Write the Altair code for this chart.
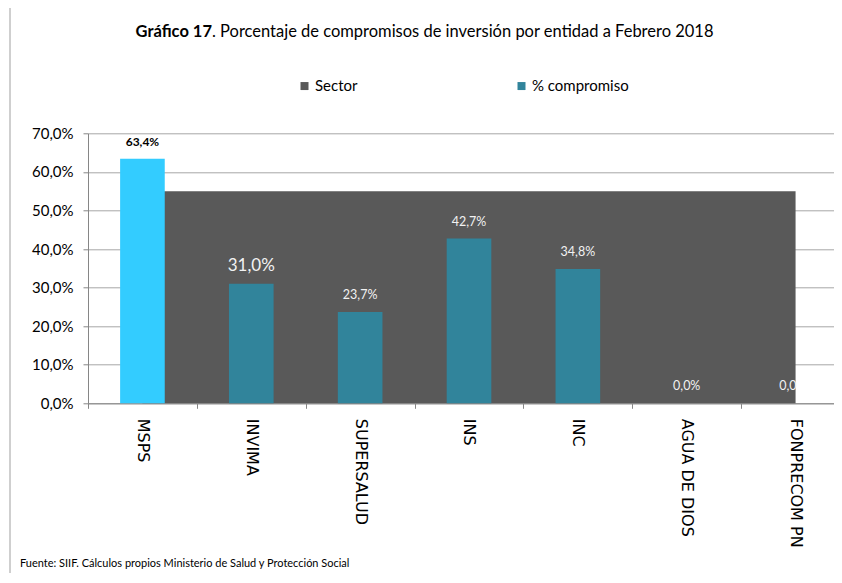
import altair as alt
import pandas as pd

# ---- data ----
entidades = ["MSPS", "INVIMA", "SUPERSALUD", "INS", "INC", "AGUA DE DIOS", "FONPRECOM PN"]
compromiso = [63.4, 31.0, 23.7, 42.7, 34.8, 0.0, 0.0]
sector = [55.0, 55.0, 55.0, 55.0, 55.0, 55.0, 55.0]
y_ticks = [0, 10, 20, 30, 40, 50, 60, 70]
series_names = ["Sector", "% compromiso"]
titulo_bold = "Gráfico 17"
titulo_rest = ". Porcentaje de compromisos de inversión por entidad  a Febrero 2018"
fuente = "Fuente: SIIF. Cálculos propios Ministerio de Salud y Protección Social"

df = pd.DataFrame({
    "entidad": entidades,
    "compromiso": compromiso,
    "sector": sector,
    "serie_area": series_names[0],
    "serie_bar": series_names[1],
})

FONT = "Lato"
AXIS_GRAY = "#868686"
color_scale = alt.Scale(domain=series_names, range=["#595959", "#31849B"])

x_axis = alt.Axis(
    title=None, labelAngle=90, labelAlign="left", labelBaseline="middle",
    labelFont="DejaVu Sans", labelFontSize=16, labelColor="#000000",
    labelPadding=10, tickSize=5, tickBand="extent", tickColor=AXIS_GRAY,
    domainColor=AXIS_GRAY, grid=False, labelOverlap=False, labelBound=False,
)
x_scale = alt.Scale(type="band", paddingInner=0, paddingOuter=0, range=[0, 762])

y_axis = alt.Axis(
    title=None, values=y_ticks, tickCount=8,
    labelExpr="replace(format(datum.value, '.1f'), '.', ',') + '%'",
    labelFont=FONT, labelFontSize=15, labelColor="#000000", labelPadding=10,
    labelOverlap=False, tickSize=5, tickColor=AXIS_GRAY, domainColor=AXIS_GRAY,
    gridColor="#A6A6A6", gridWidth=1,
)
y_scale = alt.Scale(domain=[0, 70], nice=False)

legend = alt.Legend(
    title=None, orient="none", legendX=209, legendY=-55, direction="horizontal",
    symbolType="square", symbolSize=64, symbolStrokeWidth=0,
    labelFont=FONT, labelFontSize=15, labelColor="#000000", labelOffset=3,
    columnPadding=156, padding=0,
)

base = alt.Chart(df)

area = base.mark_area(opacity=1).encode(
    x=alt.X("entidad:N", sort=entidades, scale=x_scale, axis=x_axis, bandPosition=0.5),
    y=alt.Y("sector:Q", scale=y_scale, axis=y_axis),
    color=alt.Color("serie_area:N", scale=color_scale, legend=legend),
)

bars = base.mark_bar(width=alt.RelativeBandSize(0.41)).encode(
    x=alt.X("entidad:N", sort=entidades, scale=x_scale, axis=x_axis),
    y=alt.Y("compromiso:Q", scale=y_scale, axis=y_axis),
    color=alt.condition(
        "datum.entidad === 'MSPS'",
        alt.value("#33CCFF"),
        alt.Color("serie_bar:N", scale=color_scale, legend=legend),
    ),
)

lbl = "replace(format(datum.compromiso, '.1f'), '.', ',') + '%'"
xe = alt.X("entidad:N", sort=entidades)
ye = alt.Y("compromiso:Q")

txt_msps = base.transform_filter("datum.entidad === 'MSPS'").transform_calculate(
    etq=lbl
).mark_text(font=FONT, fontSize=12, fontWeight="bold", color="#000000",
            baseline="bottom", dy=-10).encode(x=xe, y=ye, text="etq:N")

txt_invima = base.transform_filter("datum.entidad === 'INVIMA'").transform_calculate(
    etq=lbl
).mark_text(font=FONT, fontSize=17, color="#F2F2F2",
            baseline="bottom", dy=-9).encode(x=xe, y=ye, text="etq:N")

txt_others = base.transform_filter(
    "indexof(['SUPERSALUD','INS','INC','AGUA DE DIOS'], datum.entidad) >= 0"
).transform_calculate(etq=lbl).mark_text(
    font=FONT, fontSize=12.5, color="#F2F2F2", baseline="bottom", dy=-10
).encode(x=xe, y=ye, text="etq:N")

# last label is cut at the edge of the grey area in the reference
txt_last = base.transform_filter("datum.entidad === 'FONPRECOM PN'").transform_calculate(
    etq="substring(" + lbl + ", 0, 3)"
).mark_text(font=FONT, fontSize=12.5, color="#F2F2F2", align="right",
            baseline="bottom", dy=-10, dx=1).encode(x=xe, y=ye, text="etq:N")

one = pd.DataFrame({"a": [0]})

border_left = alt.Chart(one).mark_rule(color="#BFBFBF", strokeWidth=1.5).encode(
    x=alt.value(-78), y=alt.value(-126), y2=alt.value(600))
border_top = alt.Chart(one).mark_rule(color="#BFBFBF", strokeWidth=1.5).encode(
    x=alt.value(-78), x2=alt.value(900), y=alt.value(-126))

title_b = alt.Chart(pd.DataFrame({"t": [titulo_bold]})).mark_text(
    align="right", baseline="alphabetic", font=FONT, fontSize=16.5,
    fontWeight="bold", color="#000000").encode(
    x=alt.value(124), y=alt.value(-96), text="t:N")

title_r = alt.Chart(pd.DataFrame({"t": [titulo_rest]})).mark_text(
    align="left", baseline="alphabetic", font=FONT, fontSize=16.5,
    color="#000000").encode(
    x=alt.value(124), y=alt.value(-96), text="t:N")

foot = alt.Chart(pd.DataFrame({"t": [fuente]})).mark_text(
    align="left", baseline="alphabetic", font=FONT, fontSize=11,
    color="#000000").encode(
    x=alt.value(-68), y=alt.value(434), text="t:N")

chart = alt.layer(
    border_left, border_top, area, bars, txt_msps, txt_invima, txt_others, txt_last,
    title_b, title_r, foot,
).resolve_scale(color="shared").properties(
    width=746, height=270,
    autosize=alt.AutoSizeParams(type="none"),
    padding={"left": 80, "top": 125.3, "right": 0, "bottom": 170},
    background="white",
).configure_view(stroke=None)

chart.save("out.html", embed_options={"renderer": "svg", "actions": False})
